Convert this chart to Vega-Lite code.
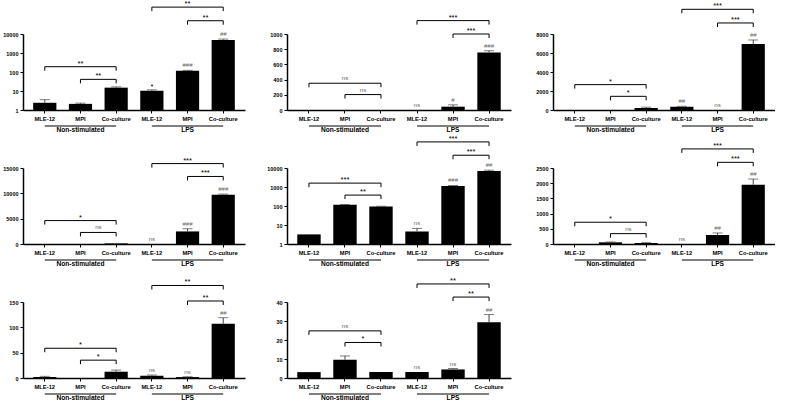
{
"$schema":"https://vega.github.io/schema/vega-lite/v6.json",
"padding":{"left":2,"top":0,"right":0,"bottom":0},
"datasets":{
"bars":[
{"p":"IL6","k":"1MLE-12","v":2.4,"e":3.5,"s":""},
{"p":"IL6","k":"2MPI","v":2.1,"e":2.3,"s":""},
{"p":"IL6","k":"3Co-culture","v":15,"e":16.5,"s":""},
{"p":"IL6","k":"4MLE-12","v":10.3,"e":11.5,"s":"*"},
{"p":"IL6","k":"5MPI","v":115,"e":122,"s":"###"},
{"p":"IL6","k":"6Co-culture","v":4900,"e":5400,"s":"##"},
{"p":"TNF","k":"1MLE-12","v":0,"e":0,"s":""},
{"p":"TNF","k":"2MPI","v":0,"e":0,"s":""},
{"p":"TNF","k":"3Co-culture","v":0,"e":0,"s":""},
{"p":"TNF","k":"4MLE-12","v":0,"e":0,"s":"ns"},
{"p":"TNF","k":"5MPI","v":44,"e":68,"s":"#"},
{"p":"TNF","k":"6Co-culture","v":758,"e":780,"s":"###"},
{"p":"MCP1","k":"1MLE-12","v":0,"e":0,"s":""},
{"p":"MCP1","k":"2MPI","v":0,"e":0,"s":""},
{"p":"MCP1","k":"3Co-culture","v":210,"e":300,"s":""},
{"p":"MCP1","k":"4MLE-12","v":350,"e":385,"s":"##"},
{"p":"MCP1","k":"5MPI","v":0,"e":0,"s":"ns"},
{"p":"MCP1","k":"6Co-culture","v":6950,"e":7370,"s":"##"},
{"p":"MIP2","k":"1MLE-12","v":0,"e":0,"s":""},
{"p":"MIP2","k":"2MPI","v":0,"e":0,"s":""},
{"p":"MIP2","k":"3Co-culture","v":120,"e":120,"s":""},
{"p":"MIP2","k":"4MLE-12","v":0,"e":0,"s":"ns"},
{"p":"MIP2","k":"5MPI","v":2480,"e":3010,"s":"###"},
{"p":"MIP2","k":"6Co-culture","v":9710,"e":9850,"s":"###"},
{"p":"MIP1a","k":"1MLE-12","v":3.2,"e":3.2,"s":""},
{"p":"MIP1a","k":"2MPI","v":115,"e":120,"s":""},
{"p":"MIP1a","k":"3Co-culture","v":93,"e":97,"s":""},
{"p":"MIP1a","k":"4MLE-12","v":4.6,"e":6.6,"s":"ns"},
{"p":"MIP1a","k":"5MPI","v":1120,"e":1200,"s":"###"},
{"p":"MIP1a","k":"6Co-culture","v":6950,"e":7700,"s":"##"},
{"p":"MIP1b","k":"1MLE-12","v":0,"e":0,"s":""},
{"p":"MIP1b","k":"2MPI","v":55,"e":66,"s":""},
{"p":"MIP1b","k":"3Co-culture","v":33,"e":44,"s":""},
{"p":"MIP1b","k":"4MLE-12","v":0,"e":0,"s":"ns"},
{"p":"MIP1b","k":"5MPI","v":297,"e":363,"s":"##"},
{"p":"MIP1b","k":"6Co-culture","v":1950,"e":2137,"s":"##"},
{"p":"RANTES","k":"1MLE-12","v":2.0,"e":3.3,"s":""},
{"p":"RANTES","k":"2MPI","v":0,"e":0,"s":""},
{"p":"RANTES","k":"3Co-culture","v":12.4,"e":15.7,"s":""},
{"p":"RANTES","k":"4MLE-12","v":4.6,"e":5.9,"s":"ns"},
{"p":"RANTES","k":"5MPI","v":1.8,"e":2.5,"s":"ns"},
{"p":"RANTES","k":"6Co-culture","v":107,"e":119,"s":"##"},
{"p":"IL1a","k":"1MLE-12","v":3.1,"e":3.1,"s":""},
{"p":"IL1a","k":"2MPI","v":9.6,"e":11.6,"s":""},
{"p":"IL1a","k":"3Co-culture","v":3.1,"e":3.1,"s":""},
{"p":"IL1a","k":"4MLE-12","v":3.1,"e":3.1,"s":"ns"},
{"p":"IL1a","k":"5MPI","v":4.5,"e":5.0,"s":"ns"},
{"p":"IL1a","k":"6Co-culture","v":29.4,"e":33.4,"s":"##"}
],
"br":[
{"p":"IL6","f":"1MLE-12","t":"3Co-culture","m":"2MPI","y":190,"s":"**","w":1},
{"p":"IL6","f":"2MPI","t":"3Co-culture","m":"","y":41,"s":"**","w":0},
{"p":"IL6","f":"4MLE-12","t":"6Co-culture","m":"5MPI","y":260000,"s":"**","w":1},
{"p":"IL6","f":"5MPI","t":"6Co-culture","m":"","y":50000,"s":"**","w":0},
{"p":"TNF","f":"1MLE-12","t":"3Co-culture","m":"2MPI","y":352,"s":"ns","w":1},
{"p":"TNF","f":"2MPI","t":"3Co-culture","m":"","y":203,"s":"ns","w":0},
{"p":"TNF","f":"4MLE-12","t":"6Co-culture","m":"5MPI","y":1176,"s":"***","w":1},
{"p":"TNF","f":"5MPI","t":"6Co-culture","m":"","y":1000,"s":"***","w":0},
{"p":"MCP1","f":"1MLE-12","t":"3Co-culture","m":"2MPI","y":2670,"s":"*","w":1},
{"p":"MCP1","f":"2MPI","t":"3Co-culture","m":"","y":1440,"s":"*","w":0},
{"p":"MCP1","f":"4MLE-12","t":"6Co-culture","m":"5MPI","y":10600,"s":"***","w":1},
{"p":"MCP1","f":"5MPI","t":"6Co-culture","m":"","y":9160,"s":"***","w":0},
{"p":"MIP2","f":"1MLE-12","t":"3Co-culture","m":"2MPI","y":4620,"s":"*","w":1},
{"p":"MIP2","f":"2MPI","t":"3Co-culture","m":"","y":2280,"s":"ns","w":0},
{"p":"MIP2","f":"4MLE-12","t":"6Co-culture","m":"5MPI","y":15870,"s":"***","w":1},
{"p":"MIP2","f":"5MPI","t":"6Co-culture","m":"","y":13330,"s":"***","w":0},
{"p":"MIP1a","f":"1MLE-12","t":"3Co-culture","m":"2MPI","y":1600,"s":"***","w":1},
{"p":"MIP1a","f":"2MPI","t":"3Co-culture","m":"","y":375,"s":"**","w":0},
{"p":"MIP1a","f":"4MLE-12","t":"6Co-culture","m":"5MPI","y":236000,"s":"***","w":1},
{"p":"MIP1a","f":"5MPI","t":"6Co-culture","m":"","y":47000,"s":"***","w":0},
{"p":"MIP1b","f":"1MLE-12","t":"3Co-culture","m":"2MPI","y":716,"s":"*","w":1},
{"p":"MIP1b","f":"2MPI","t":"3Co-culture","m":"","y":341,"s":"ns","w":0},
{"p":"MIP1b","f":"4MLE-12","t":"6Co-culture","m":"5MPI","y":3128,"s":"***","w":1},
{"p":"MIP1b","f":"5MPI","t":"6Co-culture","m":"","y":2687,"s":"***","w":0},
{"p":"RANTES","f":"1MLE-12","t":"3Co-culture","m":"2MPI","y":58.7,"s":"*","w":1},
{"p":"RANTES","f":"2MPI","t":"3Co-culture","m":"","y":35.2,"s":"*","w":0},
{"p":"RANTES","f":"4MLE-12","t":"6Co-culture","m":"5MPI","y":182.6,"s":"**","w":1},
{"p":"RANTES","f":"5MPI","t":"6Co-culture","m":"","y":152,"s":"**","w":0},
{"p":"IL1a","f":"1MLE-12","t":"3Co-culture","m":"2MPI","y":24.8,"s":"ns","w":1},
{"p":"IL1a","f":"2MPI","t":"3Co-culture","m":"","y":18.7,"s":"*","w":0},
{"p":"IL1a","f":"4MLE-12","t":"6Co-culture","m":"5MPI","y":49.5,"s":"**","w":1},
{"p":"IL1a","f":"5MPI","t":"6Co-culture","m":"","y":42.6,"s":"**","w":0}
],
"grp":[
{"g":"Non-stimulated","f":"1MLE-12","t":"3Co-culture","m":"2MPI"},
{"g":"LPS","f":"4MLE-12","t":"6Co-culture","m":"5MPI"}
]
},
"bounds":"flush",
"columns":3,
"spacing":{"row":58,"column":42},
"concat":[
{"width":222,"height":76,"layer":[
{"data":{"name":"bars"},"transform":[{"filter":"datum.p=='IL6'"}],"mark":{"type":"bar","width":{"band":0.65},"color":"black"},"encoding":{"x":{"field":"k","type":"nominal","scale":{"domain":["1MLE-12","2MPI","3Co-culture","4MLE-12","5MPI","6Co-culture"],"paddingInner":0,"paddingOuter":0.11},"axis":{"title":null,"labelExpr":"substring(datum.value,1)"}},"y":{"field":"v","type":"quantitative","scale":{"type":"log","domain":[1,10000],"nice":false},"axis":{"title":"Log₁₀ IL-6 (pg/mL)","values":[1,10,100,1000,10000],"format":"d","labelOverlap":false,"titlePadding":0}},"y2":{"datum":1}}},
{"data":{"name":"bars"},"transform":[{"filter":"datum.p=='IL6' && datum.e>datum.v"}],"mark":{"type":"rule","color":"#444"},"encoding":{"x":{"field":"k","type":"nominal","title":null},"y":{"field":"v","type":"quantitative","title":null},"y2":{"field":"e"}}},
{"data":{"name":"bars"},"transform":[{"filter":"datum.p=='IL6' && datum.e>datum.v"}],"mark":{"type":"tick","size":10,"thickness":1,"color":"#444"},"encoding":{"x":{"field":"k","type":"nominal","title":null},"y":{"field":"e","type":"quantitative","title":null}}},
{"data":{"name":"bars"},"transform":[{"filter":"datum.p=='IL6' && datum.s!=''"}],"mark":{"type":"text","baseline":"bottom","dy":{"expr":"indexof(datum.s,'*')>=0 ? 1 : -2"}},"encoding":{"x":{"field":"k","type":"nominal","title":null},"y":{"field":"e","type":"quantitative","title":null},"text":{"field":"s"},"size":{"condition":{"test":"indexof(datum.s,'*')>=0","value":7.5},"value":6},"color":{"condition":{"test":"indexof(datum.s,'*')>=0","value":"black"},"value":"#666"}}},
{"data":{"name":"br"},"transform":[{"filter":"datum.p=='IL6'"}],"mark":{"type":"rule","color":"black"},"encoding":{"x":{"field":"f","type":"nominal","title":null},"x2":{"field":"t"},"y":{"field":"y","type":"quantitative","title":null}}},
{"data":{"name":"br"},"transform":[{"filter":"datum.p=='IL6'"},{"fold":["f","t"],"as":["kk","xx"]}],"mark":{"type":"rule","color":"black","y2Offset":4},"encoding":{"x":{"field":"xx","type":"nominal","title":null},"y":{"field":"y","type":"quantitative","title":null},"y2":{"field":"y"}}},
{"data":{"name":"br"},"transform":[{"filter":"datum.p=='IL6' && datum.w==1"}],"mark":{"type":"text","baseline":"bottom","dy":{"expr":"indexof(datum.s,'*')>=0 ? 1 : -2"}},"encoding":{"x":{"field":"m","type":"nominal","title":null},"y":{"field":"y","type":"quantitative","title":null},"text":{"field":"s"},"size":{"condition":{"test":"indexof(datum.s,'*')>=0","value":7.5},"value":6},"color":{"condition":{"test":"indexof(datum.s,'*')>=0","value":"black"},"value":"#666"}}},
{"data":{"name":"br"},"transform":[{"filter":"datum.p=='IL6' && datum.w==0"}],"mark":{"type":"text","baseline":"bottom","dy":{"expr":"indexof(datum.s,'*')>=0 ? 1 : -2"}},"encoding":{"x":{"field":"t","type":"nominal","bandPosition":0,"title":null},"y":{"field":"y","type":"quantitative","title":null},"text":{"field":"s"},"size":{"condition":{"test":"indexof(datum.s,'*')>=0","value":7.5},"value":6},"color":{"condition":{"test":"indexof(datum.s,'*')>=0","value":"black"},"value":"#666"}}},
{"data":{"name":"grp"},"mark":{"type":"rule","color":"black","yOffset":16},"encoding":{"x":{"field":"f","type":"nominal","title":null},"x2":{"field":"t"},"y":{"datum":1}}},
{"data":{"name":"grp"},"mark":{"type":"text","baseline":"top","dy":16.5,"fontSize":6.6,"fontWeight":"bold"},"encoding":{"x":{"field":"m","type":"nominal","title":null},"y":{"datum":1},"text":{"field":"g"}}}
]},
{"width":224,"height":76,"layer":[
{"data":{"name":"bars"},"transform":[{"filter":"datum.p=='TNF'"}],"mark":{"type":"bar","width":{"band":0.65},"color":"black"},"encoding":{"x":{"field":"k","type":"nominal","scale":{"domain":["1MLE-12","2MPI","3Co-culture","4MLE-12","5MPI","6Co-culture"],"paddingInner":0,"paddingOuter":0.11},"axis":{"title":null,"labelExpr":"substring(datum.value,1)"}},"y":{"field":"v","type":"quantitative","scale":{"domain":[0,1000],"nice":false},"axis":{"title":"TNF-α (pg/mL)","tickCount":5,"format":"d","labelOverlap":false,"titlePadding":4.8}}}},
{"data":{"name":"bars"},"transform":[{"filter":"datum.p=='TNF' && datum.e>datum.v"}],"mark":{"type":"rule","color":"#444"},"encoding":{"x":{"field":"k","type":"nominal","title":null},"y":{"field":"v","type":"quantitative","title":null},"y2":{"field":"e"}}},
{"data":{"name":"bars"},"transform":[{"filter":"datum.p=='TNF' && datum.e>datum.v"}],"mark":{"type":"tick","size":10,"thickness":1,"color":"#444"},"encoding":{"x":{"field":"k","type":"nominal","title":null},"y":{"field":"e","type":"quantitative","title":null}}},
{"data":{"name":"bars"},"transform":[{"filter":"datum.p=='TNF' && datum.s!=''"}],"mark":{"type":"text","baseline":"bottom","dy":{"expr":"indexof(datum.s,'*')>=0 ? 1 : -2"}},"encoding":{"x":{"field":"k","type":"nominal","title":null},"y":{"field":"e","type":"quantitative","title":null},"text":{"field":"s"},"size":{"condition":{"test":"indexof(datum.s,'*')>=0","value":7.5},"value":6},"color":{"condition":{"test":"indexof(datum.s,'*')>=0","value":"black"},"value":"#666"}}},
{"data":{"name":"br"},"transform":[{"filter":"datum.p=='TNF'"}],"mark":{"type":"rule","color":"black"},"encoding":{"x":{"field":"f","type":"nominal","title":null},"x2":{"field":"t"},"y":{"field":"y","type":"quantitative","title":null}}},
{"data":{"name":"br"},"transform":[{"filter":"datum.p=='TNF'"},{"fold":["f","t"],"as":["kk","xx"]}],"mark":{"type":"rule","color":"black","y2Offset":4},"encoding":{"x":{"field":"xx","type":"nominal","title":null},"y":{"field":"y","type":"quantitative","title":null},"y2":{"field":"y"}}},
{"data":{"name":"br"},"transform":[{"filter":"datum.p=='TNF' && datum.w==1"}],"mark":{"type":"text","baseline":"bottom","dy":{"expr":"indexof(datum.s,'*')>=0 ? 1 : -2"}},"encoding":{"x":{"field":"m","type":"nominal","title":null},"y":{"field":"y","type":"quantitative","title":null},"text":{"field":"s"},"size":{"condition":{"test":"indexof(datum.s,'*')>=0","value":7.5},"value":6},"color":{"condition":{"test":"indexof(datum.s,'*')>=0","value":"black"},"value":"#666"}}},
{"data":{"name":"br"},"transform":[{"filter":"datum.p=='TNF' && datum.w==0"}],"mark":{"type":"text","baseline":"bottom","dy":{"expr":"indexof(datum.s,'*')>=0 ? 1 : -2"}},"encoding":{"x":{"field":"t","type":"nominal","bandPosition":0,"title":null},"y":{"field":"y","type":"quantitative","title":null},"text":{"field":"s"},"size":{"condition":{"test":"indexof(datum.s,'*')>=0","value":7.5},"value":6},"color":{"condition":{"test":"indexof(datum.s,'*')>=0","value":"black"},"value":"#666"}}},
{"data":{"name":"grp"},"mark":{"type":"rule","color":"black","yOffset":16},"encoding":{"x":{"field":"f","type":"nominal","title":null},"x2":{"field":"t"},"y":{"datum":0}}},
{"data":{"name":"grp"},"mark":{"type":"text","baseline":"top","dy":16.5,"fontSize":6.6,"fontWeight":"bold"},"encoding":{"x":{"field":"m","type":"nominal","title":null},"y":{"datum":0},"text":{"field":"g"}}}
]},
{"width":222,"height":76,"layer":[
{"data":{"name":"bars"},"transform":[{"filter":"datum.p=='MCP1'"}],"mark":{"type":"bar","width":{"band":0.65},"color":"black"},"encoding":{"x":{"field":"k","type":"nominal","scale":{"domain":["1MLE-12","2MPI","3Co-culture","4MLE-12","5MPI","6Co-culture"],"paddingInner":0,"paddingOuter":0.11},"axis":{"title":null,"labelExpr":"substring(datum.value,1)"}},"y":{"field":"v","type":"quantitative","scale":{"domain":[0,8000],"nice":false},"axis":{"title":"MCP-1 (pg/mL)","tickCount":4,"format":"d","labelOverlap":false,"titlePadding":0}}}},
{"data":{"name":"bars"},"transform":[{"filter":"datum.p=='MCP1' && datum.e>datum.v"}],"mark":{"type":"rule","color":"#444"},"encoding":{"x":{"field":"k","type":"nominal","title":null},"y":{"field":"v","type":"quantitative","title":null},"y2":{"field":"e"}}},
{"data":{"name":"bars"},"transform":[{"filter":"datum.p=='MCP1' && datum.e>datum.v"}],"mark":{"type":"tick","size":10,"thickness":1,"color":"#444"},"encoding":{"x":{"field":"k","type":"nominal","title":null},"y":{"field":"e","type":"quantitative","title":null}}},
{"data":{"name":"bars"},"transform":[{"filter":"datum.p=='MCP1' && datum.s!=''"}],"mark":{"type":"text","baseline":"bottom","dy":{"expr":"indexof(datum.s,'*')>=0 ? 1 : -2"}},"encoding":{"x":{"field":"k","type":"nominal","title":null},"y":{"field":"e","type":"quantitative","title":null},"text":{"field":"s"},"size":{"condition":{"test":"indexof(datum.s,'*')>=0","value":7.5},"value":6},"color":{"condition":{"test":"indexof(datum.s,'*')>=0","value":"black"},"value":"#666"}}},
{"data":{"name":"br"},"transform":[{"filter":"datum.p=='MCP1'"}],"mark":{"type":"rule","color":"black"},"encoding":{"x":{"field":"f","type":"nominal","title":null},"x2":{"field":"t"},"y":{"field":"y","type":"quantitative","title":null}}},
{"data":{"name":"br"},"transform":[{"filter":"datum.p=='MCP1'"},{"fold":["f","t"],"as":["kk","xx"]}],"mark":{"type":"rule","color":"black","y2Offset":4},"encoding":{"x":{"field":"xx","type":"nominal","title":null},"y":{"field":"y","type":"quantitative","title":null},"y2":{"field":"y"}}},
{"data":{"name":"br"},"transform":[{"filter":"datum.p=='MCP1' && datum.w==1"}],"mark":{"type":"text","baseline":"bottom","dy":{"expr":"indexof(datum.s,'*')>=0 ? 1 : -2"}},"encoding":{"x":{"field":"m","type":"nominal","title":null},"y":{"field":"y","type":"quantitative","title":null},"text":{"field":"s"},"size":{"condition":{"test":"indexof(datum.s,'*')>=0","value":7.5},"value":6},"color":{"condition":{"test":"indexof(datum.s,'*')>=0","value":"black"},"value":"#666"}}},
{"data":{"name":"br"},"transform":[{"filter":"datum.p=='MCP1' && datum.w==0"}],"mark":{"type":"text","baseline":"bottom","dy":{"expr":"indexof(datum.s,'*')>=0 ? 1 : -2"}},"encoding":{"x":{"field":"t","type":"nominal","bandPosition":0,"title":null},"y":{"field":"y","type":"quantitative","title":null},"text":{"field":"s"},"size":{"condition":{"test":"indexof(datum.s,'*')>=0","value":7.5},"value":6},"color":{"condition":{"test":"indexof(datum.s,'*')>=0","value":"black"},"value":"#666"}}},
{"data":{"name":"grp"},"mark":{"type":"rule","color":"black","yOffset":16},"encoding":{"x":{"field":"f","type":"nominal","title":null},"x2":{"field":"t"},"y":{"datum":0}}},
{"data":{"name":"grp"},"mark":{"type":"text","baseline":"top","dy":16.5,"fontSize":6.6,"fontWeight":"bold"},"encoding":{"x":{"field":"m","type":"nominal","title":null},"y":{"datum":0},"text":{"field":"g"}}}
]},
{"width":222,"height":76,"layer":[
{"data":{"name":"bars"},"transform":[{"filter":"datum.p=='MIP2'"}],"mark":{"type":"bar","width":{"band":0.65},"color":"black"},"encoding":{"x":{"field":"k","type":"nominal","scale":{"domain":["1MLE-12","2MPI","3Co-culture","4MLE-12","5MPI","6Co-culture"],"paddingInner":0,"paddingOuter":0.11},"axis":{"title":null,"labelExpr":"substring(datum.value,1)"}},"y":{"field":"v","type":"quantitative","scale":{"domain":[0,15000],"nice":false},"axis":{"title":"MIP-2 (pg/mL)","tickCount":3,"format":"d","labelOverlap":false,"titlePadding":-2}}}},
{"data":{"name":"bars"},"transform":[{"filter":"datum.p=='MIP2' && datum.e>datum.v"}],"mark":{"type":"rule","color":"#444"},"encoding":{"x":{"field":"k","type":"nominal","title":null},"y":{"field":"v","type":"quantitative","title":null},"y2":{"field":"e"}}},
{"data":{"name":"bars"},"transform":[{"filter":"datum.p=='MIP2' && datum.e>datum.v"}],"mark":{"type":"tick","size":10,"thickness":1,"color":"#444"},"encoding":{"x":{"field":"k","type":"nominal","title":null},"y":{"field":"e","type":"quantitative","title":null}}},
{"data":{"name":"bars"},"transform":[{"filter":"datum.p=='MIP2' && datum.s!=''"}],"mark":{"type":"text","baseline":"bottom","dy":{"expr":"indexof(datum.s,'*')>=0 ? 1 : -2"}},"encoding":{"x":{"field":"k","type":"nominal","title":null},"y":{"field":"e","type":"quantitative","title":null},"text":{"field":"s"},"size":{"condition":{"test":"indexof(datum.s,'*')>=0","value":7.5},"value":6},"color":{"condition":{"test":"indexof(datum.s,'*')>=0","value":"black"},"value":"#666"}}},
{"data":{"name":"br"},"transform":[{"filter":"datum.p=='MIP2'"}],"mark":{"type":"rule","color":"black"},"encoding":{"x":{"field":"f","type":"nominal","title":null},"x2":{"field":"t"},"y":{"field":"y","type":"quantitative","title":null}}},
{"data":{"name":"br"},"transform":[{"filter":"datum.p=='MIP2'"},{"fold":["f","t"],"as":["kk","xx"]}],"mark":{"type":"rule","color":"black","y2Offset":4},"encoding":{"x":{"field":"xx","type":"nominal","title":null},"y":{"field":"y","type":"quantitative","title":null},"y2":{"field":"y"}}},
{"data":{"name":"br"},"transform":[{"filter":"datum.p=='MIP2' && datum.w==1"}],"mark":{"type":"text","baseline":"bottom","dy":{"expr":"indexof(datum.s,'*')>=0 ? 1 : -2"}},"encoding":{"x":{"field":"m","type":"nominal","title":null},"y":{"field":"y","type":"quantitative","title":null},"text":{"field":"s"},"size":{"condition":{"test":"indexof(datum.s,'*')>=0","value":7.5},"value":6},"color":{"condition":{"test":"indexof(datum.s,'*')>=0","value":"black"},"value":"#666"}}},
{"data":{"name":"br"},"transform":[{"filter":"datum.p=='MIP2' && datum.w==0"}],"mark":{"type":"text","baseline":"bottom","dy":{"expr":"indexof(datum.s,'*')>=0 ? 1 : -2"}},"encoding":{"x":{"field":"t","type":"nominal","bandPosition":0,"title":null},"y":{"field":"y","type":"quantitative","title":null},"text":{"field":"s"},"size":{"condition":{"test":"indexof(datum.s,'*')>=0","value":7.5},"value":6},"color":{"condition":{"test":"indexof(datum.s,'*')>=0","value":"black"},"value":"#666"}}},
{"data":{"name":"grp"},"mark":{"type":"rule","color":"black","yOffset":16},"encoding":{"x":{"field":"f","type":"nominal","title":null},"x2":{"field":"t"},"y":{"datum":0}}},
{"data":{"name":"grp"},"mark":{"type":"text","baseline":"top","dy":16.5,"fontSize":6.6,"fontWeight":"bold"},"encoding":{"x":{"field":"m","type":"nominal","title":null},"y":{"datum":0},"text":{"field":"g"}}}
]},
{"width":224,"height":76,"layer":[
{"data":{"name":"bars"},"transform":[{"filter":"datum.p=='MIP1a'"}],"mark":{"type":"bar","width":{"band":0.65},"color":"black"},"encoding":{"x":{"field":"k","type":"nominal","scale":{"domain":["1MLE-12","2MPI","3Co-culture","4MLE-12","5MPI","6Co-culture"],"paddingInner":0,"paddingOuter":0.11},"axis":{"title":null,"labelExpr":"substring(datum.value,1)"}},"y":{"field":"v","type":"quantitative","scale":{"type":"log","domain":[1,10000],"nice":false},"axis":{"title":"MIP-1α (pg/mL)","values":[1,10,100,1000,10000],"format":"d","labelOverlap":false,"titlePadding":-1}},"y2":{"datum":1}}},
{"data":{"name":"bars"},"transform":[{"filter":"datum.p=='MIP1a' && datum.e>datum.v"}],"mark":{"type":"rule","color":"#444"},"encoding":{"x":{"field":"k","type":"nominal","title":null},"y":{"field":"v","type":"quantitative","title":null},"y2":{"field":"e"}}},
{"data":{"name":"bars"},"transform":[{"filter":"datum.p=='MIP1a' && datum.e>datum.v"}],"mark":{"type":"tick","size":10,"thickness":1,"color":"#444"},"encoding":{"x":{"field":"k","type":"nominal","title":null},"y":{"field":"e","type":"quantitative","title":null}}},
{"data":{"name":"bars"},"transform":[{"filter":"datum.p=='MIP1a' && datum.s!=''"}],"mark":{"type":"text","baseline":"bottom","dy":{"expr":"indexof(datum.s,'*')>=0 ? 1 : -2"}},"encoding":{"x":{"field":"k","type":"nominal","title":null},"y":{"field":"e","type":"quantitative","title":null},"text":{"field":"s"},"size":{"condition":{"test":"indexof(datum.s,'*')>=0","value":7.5},"value":6},"color":{"condition":{"test":"indexof(datum.s,'*')>=0","value":"black"},"value":"#666"}}},
{"data":{"name":"br"},"transform":[{"filter":"datum.p=='MIP1a'"}],"mark":{"type":"rule","color":"black"},"encoding":{"x":{"field":"f","type":"nominal","title":null},"x2":{"field":"t"},"y":{"field":"y","type":"quantitative","title":null}}},
{"data":{"name":"br"},"transform":[{"filter":"datum.p=='MIP1a'"},{"fold":["f","t"],"as":["kk","xx"]}],"mark":{"type":"rule","color":"black","y2Offset":4},"encoding":{"x":{"field":"xx","type":"nominal","title":null},"y":{"field":"y","type":"quantitative","title":null},"y2":{"field":"y"}}},
{"data":{"name":"br"},"transform":[{"filter":"datum.p=='MIP1a' && datum.w==1"}],"mark":{"type":"text","baseline":"bottom","dy":{"expr":"indexof(datum.s,'*')>=0 ? 1 : -2"}},"encoding":{"x":{"field":"m","type":"nominal","title":null},"y":{"field":"y","type":"quantitative","title":null},"text":{"field":"s"},"size":{"condition":{"test":"indexof(datum.s,'*')>=0","value":7.5},"value":6},"color":{"condition":{"test":"indexof(datum.s,'*')>=0","value":"black"},"value":"#666"}}},
{"data":{"name":"br"},"transform":[{"filter":"datum.p=='MIP1a' && datum.w==0"}],"mark":{"type":"text","baseline":"bottom","dy":{"expr":"indexof(datum.s,'*')>=0 ? 1 : -2"}},"encoding":{"x":{"field":"t","type":"nominal","bandPosition":0,"title":null},"y":{"field":"y","type":"quantitative","title":null},"text":{"field":"s"},"size":{"condition":{"test":"indexof(datum.s,'*')>=0","value":7.5},"value":6},"color":{"condition":{"test":"indexof(datum.s,'*')>=0","value":"black"},"value":"#666"}}},
{"data":{"name":"grp"},"mark":{"type":"rule","color":"black","yOffset":16},"encoding":{"x":{"field":"f","type":"nominal","title":null},"x2":{"field":"t"},"y":{"datum":1}}},
{"data":{"name":"grp"},"mark":{"type":"text","baseline":"top","dy":16.5,"fontSize":6.6,"fontWeight":"bold"},"encoding":{"x":{"field":"m","type":"nominal","title":null},"y":{"datum":1},"text":{"field":"g"}}}
]},
{"width":222,"height":76,"layer":[
{"data":{"name":"bars"},"transform":[{"filter":"datum.p=='MIP1b'"}],"mark":{"type":"bar","width":{"band":0.65},"color":"black"},"encoding":{"x":{"field":"k","type":"nominal","scale":{"domain":["1MLE-12","2MPI","3Co-culture","4MLE-12","5MPI","6Co-culture"],"paddingInner":0,"paddingOuter":0.11},"axis":{"title":null,"labelExpr":"substring(datum.value,1)"}},"y":{"field":"v","type":"quantitative","scale":{"domain":[0,2500],"nice":false},"axis":{"title":"MIP-1β (pg/mL)","tickCount":5,"format":"d","labelOverlap":false,"titlePadding":0}}}},
{"data":{"name":"bars"},"transform":[{"filter":"datum.p=='MIP1b' && datum.e>datum.v"}],"mark":{"type":"rule","color":"#444"},"encoding":{"x":{"field":"k","type":"nominal","title":null},"y":{"field":"v","type":"quantitative","title":null},"y2":{"field":"e"}}},
{"data":{"name":"bars"},"transform":[{"filter":"datum.p=='MIP1b' && datum.e>datum.v"}],"mark":{"type":"tick","size":10,"thickness":1,"color":"#444"},"encoding":{"x":{"field":"k","type":"nominal","title":null},"y":{"field":"e","type":"quantitative","title":null}}},
{"data":{"name":"bars"},"transform":[{"filter":"datum.p=='MIP1b' && datum.s!=''"}],"mark":{"type":"text","baseline":"bottom","dy":{"expr":"indexof(datum.s,'*')>=0 ? 1 : -2"}},"encoding":{"x":{"field":"k","type":"nominal","title":null},"y":{"field":"e","type":"quantitative","title":null},"text":{"field":"s"},"size":{"condition":{"test":"indexof(datum.s,'*')>=0","value":7.5},"value":6},"color":{"condition":{"test":"indexof(datum.s,'*')>=0","value":"black"},"value":"#666"}}},
{"data":{"name":"br"},"transform":[{"filter":"datum.p=='MIP1b'"}],"mark":{"type":"rule","color":"black"},"encoding":{"x":{"field":"f","type":"nominal","title":null},"x2":{"field":"t"},"y":{"field":"y","type":"quantitative","title":null}}},
{"data":{"name":"br"},"transform":[{"filter":"datum.p=='MIP1b'"},{"fold":["f","t"],"as":["kk","xx"]}],"mark":{"type":"rule","color":"black","y2Offset":4},"encoding":{"x":{"field":"xx","type":"nominal","title":null},"y":{"field":"y","type":"quantitative","title":null},"y2":{"field":"y"}}},
{"data":{"name":"br"},"transform":[{"filter":"datum.p=='MIP1b' && datum.w==1"}],"mark":{"type":"text","baseline":"bottom","dy":{"expr":"indexof(datum.s,'*')>=0 ? 1 : -2"}},"encoding":{"x":{"field":"m","type":"nominal","title":null},"y":{"field":"y","type":"quantitative","title":null},"text":{"field":"s"},"size":{"condition":{"test":"indexof(datum.s,'*')>=0","value":7.5},"value":6},"color":{"condition":{"test":"indexof(datum.s,'*')>=0","value":"black"},"value":"#666"}}},
{"data":{"name":"br"},"transform":[{"filter":"datum.p=='MIP1b' && datum.w==0"}],"mark":{"type":"text","baseline":"bottom","dy":{"expr":"indexof(datum.s,'*')>=0 ? 1 : -2"}},"encoding":{"x":{"field":"t","type":"nominal","bandPosition":0,"title":null},"y":{"field":"y","type":"quantitative","title":null},"text":{"field":"s"},"size":{"condition":{"test":"indexof(datum.s,'*')>=0","value":7.5},"value":6},"color":{"condition":{"test":"indexof(datum.s,'*')>=0","value":"black"},"value":"#666"}}},
{"data":{"name":"grp"},"mark":{"type":"rule","color":"black","yOffset":16},"encoding":{"x":{"field":"f","type":"nominal","title":null},"x2":{"field":"t"},"y":{"datum":0}}},
{"data":{"name":"grp"},"mark":{"type":"text","baseline":"top","dy":16.5,"fontSize":6.6,"fontWeight":"bold"},"encoding":{"x":{"field":"m","type":"nominal","title":null},"y":{"datum":0},"text":{"field":"g"}}}
]},
{"width":222,"height":76,"layer":[
{"data":{"name":"bars"},"transform":[{"filter":"datum.p=='RANTES'"}],"mark":{"type":"bar","width":{"band":0.65},"color":"black"},"encoding":{"x":{"field":"k","type":"nominal","scale":{"domain":["1MLE-12","2MPI","3Co-culture","4MLE-12","5MPI","6Co-culture"],"paddingInner":0,"paddingOuter":0.11},"axis":{"title":null,"labelExpr":"substring(datum.value,1)"}},"y":{"field":"v","type":"quantitative","scale":{"domain":[0,150],"nice":false},"axis":{"title":"RANTES (pg/mL)","tickCount":3,"format":"d","labelOverlap":false,"titlePadding":7.8}}}},
{"data":{"name":"bars"},"transform":[{"filter":"datum.p=='RANTES' && datum.e>datum.v"}],"mark":{"type":"rule","color":"#444"},"encoding":{"x":{"field":"k","type":"nominal","title":null},"y":{"field":"v","type":"quantitative","title":null},"y2":{"field":"e"}}},
{"data":{"name":"bars"},"transform":[{"filter":"datum.p=='RANTES' && datum.e>datum.v"}],"mark":{"type":"tick","size":10,"thickness":1,"color":"#444"},"encoding":{"x":{"field":"k","type":"nominal","title":null},"y":{"field":"e","type":"quantitative","title":null}}},
{"data":{"name":"bars"},"transform":[{"filter":"datum.p=='RANTES' && datum.s!=''"}],"mark":{"type":"text","baseline":"bottom","dy":{"expr":"indexof(datum.s,'*')>=0 ? 1 : -2"}},"encoding":{"x":{"field":"k","type":"nominal","title":null},"y":{"field":"e","type":"quantitative","title":null},"text":{"field":"s"},"size":{"condition":{"test":"indexof(datum.s,'*')>=0","value":7.5},"value":6},"color":{"condition":{"test":"indexof(datum.s,'*')>=0","value":"black"},"value":"#666"}}},
{"data":{"name":"br"},"transform":[{"filter":"datum.p=='RANTES'"}],"mark":{"type":"rule","color":"black"},"encoding":{"x":{"field":"f","type":"nominal","title":null},"x2":{"field":"t"},"y":{"field":"y","type":"quantitative","title":null}}},
{"data":{"name":"br"},"transform":[{"filter":"datum.p=='RANTES'"},{"fold":["f","t"],"as":["kk","xx"]}],"mark":{"type":"rule","color":"black","y2Offset":4},"encoding":{"x":{"field":"xx","type":"nominal","title":null},"y":{"field":"y","type":"quantitative","title":null},"y2":{"field":"y"}}},
{"data":{"name":"br"},"transform":[{"filter":"datum.p=='RANTES' && datum.w==1"}],"mark":{"type":"text","baseline":"bottom","dy":{"expr":"indexof(datum.s,'*')>=0 ? 1 : -2"}},"encoding":{"x":{"field":"m","type":"nominal","title":null},"y":{"field":"y","type":"quantitative","title":null},"text":{"field":"s"},"size":{"condition":{"test":"indexof(datum.s,'*')>=0","value":7.5},"value":6},"color":{"condition":{"test":"indexof(datum.s,'*')>=0","value":"black"},"value":"#666"}}},
{"data":{"name":"br"},"transform":[{"filter":"datum.p=='RANTES' && datum.w==0"}],"mark":{"type":"text","baseline":"bottom","dy":{"expr":"indexof(datum.s,'*')>=0 ? 1 : -2"}},"encoding":{"x":{"field":"t","type":"nominal","bandPosition":0,"title":null},"y":{"field":"y","type":"quantitative","title":null},"text":{"field":"s"},"size":{"condition":{"test":"indexof(datum.s,'*')>=0","value":7.5},"value":6},"color":{"condition":{"test":"indexof(datum.s,'*')>=0","value":"black"},"value":"#666"}}},
{"data":{"name":"grp"},"mark":{"type":"rule","color":"black","yOffset":16},"encoding":{"x":{"field":"f","type":"nominal","title":null},"x2":{"field":"t"},"y":{"datum":0}}},
{"data":{"name":"grp"},"mark":{"type":"text","baseline":"top","dy":16.5,"fontSize":6.6,"fontWeight":"bold"},"encoding":{"x":{"field":"m","type":"nominal","title":null},"y":{"datum":0},"text":{"field":"g"}}}
]},
{"width":224,"height":76,"layer":[
{"data":{"name":"bars"},"transform":[{"filter":"datum.p=='IL1a'"}],"mark":{"type":"bar","width":{"band":0.65},"color":"black"},"encoding":{"x":{"field":"k","type":"nominal","scale":{"domain":["1MLE-12","2MPI","3Co-culture","4MLE-12","5MPI","6Co-culture"],"paddingInner":0,"paddingOuter":0.11},"axis":{"title":null,"labelExpr":"substring(datum.value,1)"}},"y":{"field":"v","type":"quantitative","scale":{"domain":[0,40],"nice":false},"axis":{"title":"IL-1α (pg/mL)","tickCount":4,"format":"d","labelOverlap":false,"titlePadding":7.9}}}},
{"data":{"name":"bars"},"transform":[{"filter":"datum.p=='IL1a' && datum.e>datum.v"}],"mark":{"type":"rule","color":"#444"},"encoding":{"x":{"field":"k","type":"nominal","title":null},"y":{"field":"v","type":"quantitative","title":null},"y2":{"field":"e"}}},
{"data":{"name":"bars"},"transform":[{"filter":"datum.p=='IL1a' && datum.e>datum.v"}],"mark":{"type":"tick","size":10,"thickness":1,"color":"#444"},"encoding":{"x":{"field":"k","type":"nominal","title":null},"y":{"field":"e","type":"quantitative","title":null}}},
{"data":{"name":"bars"},"transform":[{"filter":"datum.p=='IL1a' && datum.s!=''"}],"mark":{"type":"text","baseline":"bottom","dy":{"expr":"indexof(datum.s,'*')>=0 ? 1 : -2"}},"encoding":{"x":{"field":"k","type":"nominal","title":null},"y":{"field":"e","type":"quantitative","title":null},"text":{"field":"s"},"size":{"condition":{"test":"indexof(datum.s,'*')>=0","value":7.5},"value":6},"color":{"condition":{"test":"indexof(datum.s,'*')>=0","value":"black"},"value":"#666"}}},
{"data":{"name":"br"},"transform":[{"filter":"datum.p=='IL1a'"}],"mark":{"type":"rule","color":"black"},"encoding":{"x":{"field":"f","type":"nominal","title":null},"x2":{"field":"t"},"y":{"field":"y","type":"quantitative","title":null}}},
{"data":{"name":"br"},"transform":[{"filter":"datum.p=='IL1a'"},{"fold":["f","t"],"as":["kk","xx"]}],"mark":{"type":"rule","color":"black","y2Offset":4},"encoding":{"x":{"field":"xx","type":"nominal","title":null},"y":{"field":"y","type":"quantitative","title":null},"y2":{"field":"y"}}},
{"data":{"name":"br"},"transform":[{"filter":"datum.p=='IL1a' && datum.w==1"}],"mark":{"type":"text","baseline":"bottom","dy":{"expr":"indexof(datum.s,'*')>=0 ? 1 : -2"}},"encoding":{"x":{"field":"m","type":"nominal","title":null},"y":{"field":"y","type":"quantitative","title":null},"text":{"field":"s"},"size":{"condition":{"test":"indexof(datum.s,'*')>=0","value":7.5},"value":6},"color":{"condition":{"test":"indexof(datum.s,'*')>=0","value":"black"},"value":"#666"}}},
{"data":{"name":"br"},"transform":[{"filter":"datum.p=='IL1a' && datum.w==0"}],"mark":{"type":"text","baseline":"bottom","dy":{"expr":"indexof(datum.s,'*')>=0 ? 1 : -2"}},"encoding":{"x":{"field":"t","type":"nominal","bandPosition":0,"title":null},"y":{"field":"y","type":"quantitative","title":null},"text":{"field":"s"},"size":{"condition":{"test":"indexof(datum.s,'*')>=0","value":7.5},"value":6},"color":{"condition":{"test":"indexof(datum.s,'*')>=0","value":"black"},"value":"#666"}}},
{"data":{"name":"grp"},"mark":{"type":"rule","color":"black","yOffset":16},"encoding":{"x":{"field":"f","type":"nominal","title":null},"x2":{"field":"t"},"y":{"datum":0}}},
{"data":{"name":"grp"},"mark":{"type":"text","baseline":"top","dy":16.5,"fontSize":6.6,"fontWeight":"bold"},"encoding":{"x":{"field":"m","type":"nominal","title":null},"y":{"datum":0},"text":{"field":"g"}}}
]}
],
"config":{
"view":{"stroke":null},
"font":"Liberation Sans",
"axis":{"grid":false,"domainColor":"black","domainWidth":1.5,"tickColor":"black","tickWidth":1,"tickSize":3,"labelColor":"black","labelFont":"Liberation Sans","labelFontWeight":"bold","labelFontSize":5.5,"labelPadding":2,"titleColor":"black","titleFont":"Liberation Sans","titleFontWeight":"bold","titleFontSize":6},
"axisX":{"labelAngle":0,"labelFontSize":5.8},
"axisY":{"labelOverlap":false,"labelFlush":false},
"text":{"font":"Liberation Sans"}
}
}
